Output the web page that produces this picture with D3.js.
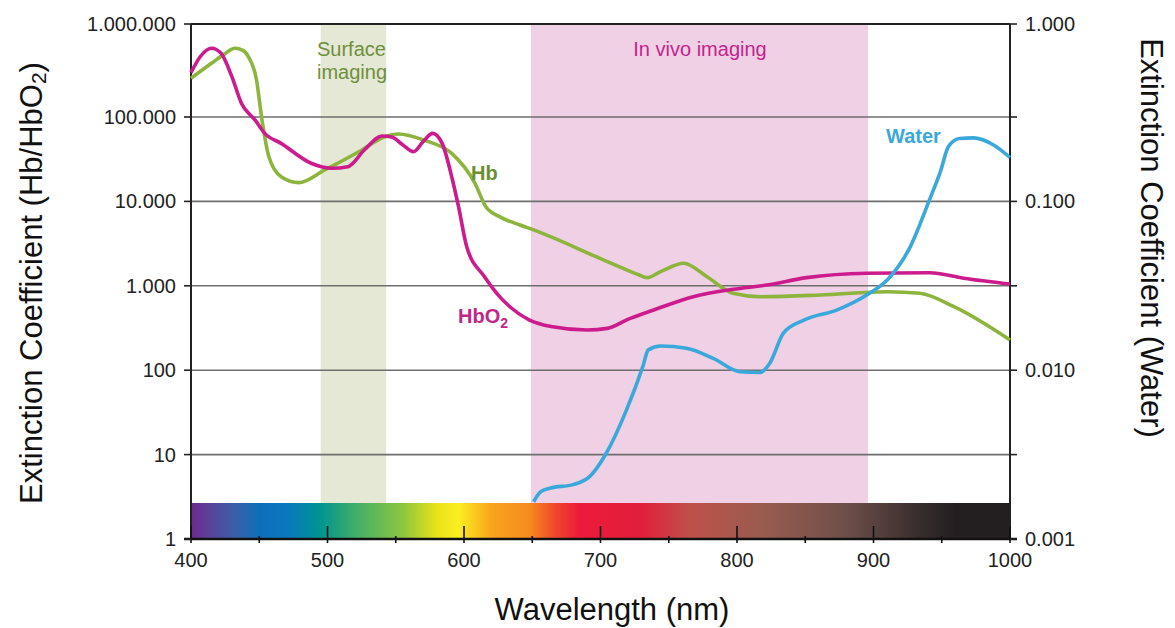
<!DOCTYPE html>
<html>
<head>
<meta charset="utf-8">
<script src="https://cdn.jsdelivr.net/npm/d3@7"></script>
<style>
  html, body { margin: 0; padding: 0; background: #fff; }
  svg { display: block; font-family: Arial, "Liberation Sans", sans-serif; }
</style>
</head>
<body>
<svg id="chart" width="1175" height="628"></svg>
<script>
// ---------------- data ----------------
const hbo2 = [
  [400, 300000], [407, 450000], [415, 548000], [422, 484000], [430, 270000], [437, 140000],
  [447, 92000], [454, 64000], [466, 48700], [488, 28300], [503, 24700], [515, 25800],
  [527, 40600], [540, 59600], [547, 58000], [555, 47000], [563, 38800], [570, 51000],
  [577, 64000], [584, 48700], [591, 19600], [596, 8650], [602, 2900], [615, 1280],
  [624, 815], [648, 393], [665, 327], [690, 299], [705, 313], [720, 400], [739, 517],
  [768, 743], [797, 908], [822, 1020], [851, 1250], [895, 1410], [941, 1430], [966, 1230],
  [1000, 1050]
];
const hb = [
  [400, 261000], [415, 378000], [425, 480000], [432, 548000], [438, 520000], [442, 445000],
  [448, 250000], [452, 92000], [457, 34000], [466, 19600], [479, 16700], [498, 23600],
  [523, 38800], [542, 58400], [552, 63000], [571, 53000], [591, 37000], [608, 16400],
  [616, 8650], [626, 6600], [641, 5250], [651, 4600], [700, 2100], [714, 1680], [728, 1350],
  [734, 1250], [744, 1470], [761, 1850], [778, 1280], [797, 815], [817, 743], [861, 778],
  [910, 851], [934, 815], [959, 565], [1000, 228]
];
const water = [
  [651, 0.00166], [656, 0.0019], [663, 0.0020], [680, 0.0021], [692, 0.00234], [704, 0.0032],
  [719, 0.0058], [731, 0.0105], [735, 0.0132], [744, 0.0139], [763, 0.0135], [783, 0.0117],
  [802, 0.0098], [817, 0.0097], [824, 0.0110], [834, 0.0166], [849, 0.0198], [873, 0.0227],
  [895, 0.0279], [910, 0.0342], [927, 0.054], [941, 0.102], [949, 0.150], [955, 0.212],
  [963, 0.236], [973, 0.238], [988, 0.216], [1000, 0.182]
];
const bands = [
  { name: "surface", from: 495, to: 543 },
  { name: "invivo", from: 649, to: 896 }
];
const xTicks = [400, 450, 500, 550, 600, 650, 700, 750, 800, 850, 900, 950, 1000];
const xTickLabels = ["400", "500", "600", "700", "800", "900", "1000"];
const leftTicks = [1, 10, 100, 1000, 10000, 100000, 1000000];
const leftTickLabels = ["1", "10", "100", "1.000", "10.000", "100.000", "1.000.000"];
const rightTicks = [0.001, 0.01, 0.1, 1];
const rightTickLabels = ["0.001", "0.010", "0.100", "1.000"];
const rightMinorTicks = [0.001 * Math.sqrt(10), 0.01 * Math.sqrt(10), 0.1 * Math.sqrt(10)];
const specWl = [400, 412, 430, 450, 470, 495, 520, 555, 580, 596, 620, 648, 668, 685, 730, 765, 820, 880, 930, 960, 1000];
const specColor = ["#6d2a8e", "#5d3f98", "#3f5da8", "#0e6fb9", "#0a77c0", "#00958f", "#3fae6a", "#8cc63f", "#e9e21a", "#fcee21", "#f8a51c", "#f58a1f", "#f0442c", "#ed1a3b", "#e11f3c", "#c0504a", "#985c4f", "#6e4f4a", "#3b2f2f", "#231f20", "#231f20"];

// ---------------- layout ----------------
const L = 191, R = 1010, T = 24, B = 539, specTop = 503;
const svg = d3.select("#chart");

const x = d3.scaleLinear().domain([400, 1000]).range([L, R]);
const y = d3.scaleLog().domain([1, 1e5, 1e6]).range([B, 117, T]);
const yR = d3.scaleLog().domain([0.001, Math.pow(10, -0.5), 1]).range([B, 117, T]);

// shaded bands
const bandFill = { surface: "#e5e8d4", invivo: "#efd0e5" };
svg.append("g").selectAll("rect").data(bands).join("rect")
  .attr("x", d => x(d.from)).attr("width", d => x(d.to) - x(d.from))
  .attr("y", T).attr("height", specTop - T)
  .attr("fill", d => bandFill[d.name]);

// gridlines
svg.append("g").selectAll("line").data(leftTicks.slice(1, 6)).join("line")
  .attr("x1", L).attr("x2", R).attr("y1", d => y(d)).attr("y2", d => y(d))
  .attr("stroke", "#6e6e6e").attr("stroke-width", 1.6);

// spectrum bar
const defs = svg.append("defs");
const grad = defs.append("linearGradient").attr("id", "spec")
  .attr("gradientUnits", "userSpaceOnUse")
  .attr("x1", L).attr("x2", R).attr("y1", 0).attr("y2", 0);
grad.selectAll("stop").data(specWl).join("stop")
  .attr("offset", d => (x(d) - L) / (R - L))
  .attr("stop-color", (d, i) => specColor[i]);
svg.append("rect").attr("x", L).attr("y", specTop).attr("width", R - L).attr("height", B - specTop)
  .attr("fill", "url(#spec)");

// frame
svg.append("line").attr("x1", L).attr("x2", R).attr("y1", T).attr("y2", T).attr("stroke", "#222").attr("stroke-width", 2);
svg.append("line").attr("x1", L).attr("x2", L).attr("y1", T).attr("y2", B).attr("stroke", "#222").attr("stroke-width", 2);
svg.append("line").attr("x1", R).attr("x2", R).attr("y1", T).attr("y2", B).attr("stroke", "#222").attr("stroke-width", 2);
svg.append("line").attr("x1", L - 7).attr("x2", R + 7).attr("y1", B).attr("y2", B).attr("stroke", "#111").attr("stroke-width", 2.5);

// x ticks
svg.append("g").selectAll("line").data(xTicks).join("line")
  .attr("x1", d => x(d)).attr("x2", d => x(d))
  .attr("y1", d => d % 100 === 0 ? B - 13 : B - 3).attr("y2", B + 4)
  .attr("stroke", "#111").attr("stroke-width", 1.6);
svg.append("g").selectAll("text").data(xTickLabels).join("text")
  .attr("x", d => x(+d)).attr("y", 567).attr("text-anchor", "middle")
  .attr("font-size", 20).attr("fill", "#222").text(d => d);

// left ticks
svg.append("g").selectAll("line").data(leftTicks).join("line")
  .attr("x1", L - 7).attr("x2", L).attr("y1", d => y(d)).attr("y2", d => y(d))
  .attr("stroke", "#222").attr("stroke-width", 1.6);
svg.append("g").selectAll("text").data(leftTicks).join("text")
  .attr("x", 176).attr("y", d => y(d)).attr("dy", "0.35em").attr("text-anchor", "end")
  .attr("font-size", 20).attr("fill", "#222").text((d, i) => leftTickLabels[i]);

// right ticks
svg.append("g").selectAll("line").data(rightTicks.concat(rightMinorTicks)).join("line")
  .attr("x1", R).attr("x2", R + 7).attr("y1", d => yR(d)).attr("y2", d => yR(d))
  .attr("stroke", "#222").attr("stroke-width", 1.6);
svg.append("g").selectAll("text").data(rightTicks).join("text")
  .attr("x", 1025).attr("y", d => yR(d)).attr("dy", "0.35em").attr("text-anchor", "start")
  .attr("font-size", 20).attr("fill", "#222").text((d, i) => rightTickLabels[i]);

// curves
const lineL = d3.line().x(d => x(d[0])).y(d => y(d[1])).curve(d3.curveMonotoneX);
const lineR = d3.line().x(d => x(d[0])).y(d => yR(d[1])).curve(d3.curveMonotoneX);
svg.append("path").datum(hb).attr("d", lineL).attr("fill", "none")
  .attr("stroke", "#8db43c").attr("stroke-width", 3.6).attr("stroke-linejoin", "round");
svg.append("path").datum(hbo2).attr("d", lineL).attr("fill", "none")
  .attr("stroke", "#cc1b8c").attr("stroke-width", 3.6).attr("stroke-linejoin", "round");
svg.append("path").datum(water).attr("d", lineR).attr("fill", "none")
  .attr("stroke", "#3aa8da").attr("stroke-width", 3.6).attr("stroke-linejoin", "round");

// annotations
svg.append("text").attr("x", 317).attr("y", 56).attr("font-size", 20).attr("fill", "#6f8f3c").text("Surface");
svg.append("text").attr("x", 317).attr("y", 79).attr("font-size", 20).attr("fill", "#6f8f3c").text("imaging");
svg.append("text").attr("x", 700).attr("y", 56).attr("text-anchor", "middle").attr("font-size", 20).attr("fill", "#c4248d").text("In vivo imaging");
svg.append("text").attr("x", 471).attr("y", 180).attr("font-size", 20).attr("font-weight", "bold").attr("fill", "#6b8e2f").text("Hb");
const hbo2Label = svg.append("text").attr("x", 458).attr("y", 323).attr("font-size", 20).attr("font-weight", "bold").attr("fill", "#c2268a");
hbo2Label.append("tspan").text("HbO");
hbo2Label.append("tspan").attr("font-size", 14).attr("dy", 5).text("2");
svg.append("text").attr("x", 886).attr("y", 143).attr("font-size", 20).attr("font-weight", "bold").attr("fill", "#3aa8da").text("Water");

// axis titles
svg.append("text").attr("x", 612).attr("y", 620).attr("text-anchor", "middle")
  .attr("font-size", 31).attr("fill", "#111").text("Wavelength (nm)");
const lt = svg.append("text").attr("transform", "translate(42,283) rotate(-90)")
  .attr("text-anchor", "middle").attr("font-size", 31).attr("fill", "#111");
lt.append("tspan").text("Extinction Coefficient (Hb/HbO");
lt.append("tspan").attr("font-size", 21).attr("dy", 4).text("2");
lt.append("tspan").attr("dy", -4).text(")");
svg.append("text").attr("transform", "translate(1141,238) rotate(90)")
  .attr("text-anchor", "middle").attr("font-size", 31).attr("fill", "#111")
  .text("Extinction Coefficient (Water)");
</script>
</body>
</html>
